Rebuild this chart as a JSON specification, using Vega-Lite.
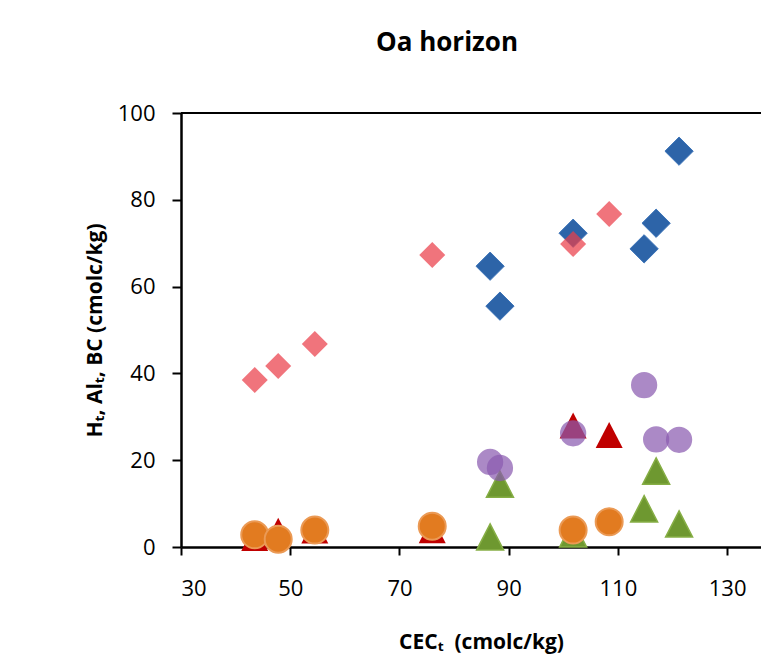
{
  "$schema": "https://vega.github.io/schema/vega-lite/v6.json",
  "width": 580,
  "height": 434,
  "autosize": {"type": "none"},
  "padding": {"left": 181, "top": 113, "right": 0, "bottom": 119},
  "background": "white",
  "config": {
    "view": {"stroke": null},
    "font": "Open Sans",
    "axis": {
      "grid": false,
      "domainColor": "black",
      "domainWidth": 2.5,
      "tickColor": "black",
      "tickWidth": 2,
      "labelColor": "black",
      "labelFont": "Open Sans",
      "labelFontSize": 22,
      "titleColor": "black",
      "titleFont": "Open Sans",
      "titleFontSize": 21,
      "titleFontWeight": "bold"
    }
  },
  "title": {
    "text": "Oa horizon",
    "font": "Open Sans",
    "fontSize": 26,
    "fontWeight": "bold",
    "color": "black",
    "anchor": "middle",
    "dx": -24,
    "offset": 46
  },
  "data": {
    "values": [
      {"series": "BC-B", "cec": 86.6, "value": 64.7},
      {"series": "BC-B", "cec": 88.4, "value": 55.5},
      {"series": "BC-B", "cec": 101.8, "value": 72.3},
      {"series": "BC-B", "cec": 114.8, "value": 68.7},
      {"series": "BC-B", "cec": 117.0, "value": 74.6},
      {"series": "BC-B", "cec": 121.2, "value": 91.2},
      {"series": "BC-A", "cec": 43.5, "value": 38.5},
      {"series": "BC-A", "cec": 47.8, "value": 41.7},
      {"series": "BC-A", "cec": 54.5, "value": 46.8},
      {"series": "BC-A", "cec": 76.0, "value": 67.3},
      {"series": "BC-A", "cec": 101.8, "value": 69.8},
      {"series": "BC-A", "cec": 108.4, "value": 76.7},
      {"series": "Alt-A", "cec": 43.5, "value": 2.1},
      {"series": "Alt-A", "cec": 47.8, "value": 3.7},
      {"series": "Alt-A", "cec": 54.5, "value": 3.8},
      {"series": "Alt-A", "cec": 76.0, "value": 3.9},
      {"series": "Alt-A", "cec": 101.8, "value": 28.0},
      {"series": "Alt-A", "cec": 108.4, "value": 25.8},
      {"series": "Alt-B", "cec": 86.6, "value": 2.3},
      {"series": "Alt-B", "cec": 88.4, "value": 14.5},
      {"series": "Alt-B", "cec": 101.8, "value": 3.0},
      {"series": "Alt-B", "cec": 114.8, "value": 8.8},
      {"series": "Alt-B", "cec": 117.0, "value": 17.5},
      {"series": "Alt-B", "cec": 121.2, "value": 5.3},
      {"series": "Ht-B", "cec": 86.6, "value": 19.6},
      {"series": "Ht-B", "cec": 88.4, "value": 18.2},
      {"series": "Ht-B", "cec": 101.8, "value": 26.2},
      {"series": "Ht-B", "cec": 114.8, "value": 37.3},
      {"series": "Ht-B", "cec": 117.0, "value": 24.8},
      {"series": "Ht-B", "cec": 121.2, "value": 24.7},
      {"series": "Ht-A", "cec": 43.5, "value": 2.8},
      {"series": "Ht-A", "cec": 47.8, "value": 1.8},
      {"series": "Ht-A", "cec": 54.5, "value": 3.9},
      {"series": "Ht-A", "cec": 76.0, "value": 4.8},
      {"series": "Ht-A", "cec": 101.8, "value": 3.9},
      {"series": "Ht-A", "cec": 108.4, "value": 5.8}
    ]
  },
  "encoding": {
    "x": {
      "field": "cec",
      "type": "quantitative",
      "scale": {"domain": [30, 136.2], "nice": false, "zero": false},
      "axis": {
        "values": [30, 50, 70, 90, 110, 130],
        "tickSize": 8,
        "labelPadding": 23,
        "title": "CECₜ\u00a0\u00a0(cmolc/kg)",
        "titlePadding": 32,
        "titleX": 300
      }
    },
    "y": {
      "field": "value",
      "type": "quantitative",
      "scale": {"domain": [0, 100], "nice": false},
      "axis": {
        "values": [0, 20, 40, 60, 80, 100],
        "tickSize": 9,
        "labelPadding": 17,
        "title": "Hₜ, Alₜ, BC (cmolc/kg)",
        "titlePadding": 12
      }
    }
  },
  "layer": [
    {
      "data": {"values": [{"v": 100}]},
      "mark": {"type": "rule", "color": "black", "strokeWidth": 2},
      "encoding": {"x": null, "y": {"field": "v", "type": "quantitative"}}
    },
    {
      "transform": [{"filter": "datum.series === 'BC-B'"}],
      "mark": {"type": "point", "filled": true, "shape": "diamond", "size": 800, "fill": "#2D64A8", "stroke": "#3B73B8", "strokeWidth": 1, "opacity": 1}
    },
    {
      "transform": [{"filter": "datum.series === 'BC-A'"}],
      "mark": {"type": "point", "filled": true, "shape": "diamond", "size": 676, "fill": "#EA3F4A", "strokeWidth": 0, "opacity": 0.72}
    },
    {
      "transform": [{"filter": "datum.series === 'Alt-A'"}],
      "mark": {"type": "point", "filled": true, "shape": "M0,-0.97L1,0.97L-1,0.97Z", "size": 729, "fill": "#C00000", "strokeWidth": 0, "opacity": 1}
    },
    {
      "transform": [{"filter": "datum.series === 'Alt-B'"}],
      "mark": {"type": "point", "filled": true, "shape": "M0,-0.97L1,0.97L-1,0.97Z", "size": 729, "fill": "#6E9830", "stroke": "#86AE45", "strokeWidth": 1.5, "opacity": 1}
    },
    {
      "transform": [{"filter": "datum.series === 'Ht-B'"}],
      "mark": {"type": "point", "filled": true, "shape": "circle", "size": 690, "fill": "#8A5CB0", "strokeWidth": 0, "opacity": 0.72}
    },
    {
      "transform": [{"filter": "datum.series === 'Ht-A'"}],
      "mark": {"type": "point", "filled": true, "shape": "circle", "size": 729, "fill": "#E27B20", "stroke": "#EB9A55", "strokeWidth": 2, "opacity": 1}
    }
  ]
}
